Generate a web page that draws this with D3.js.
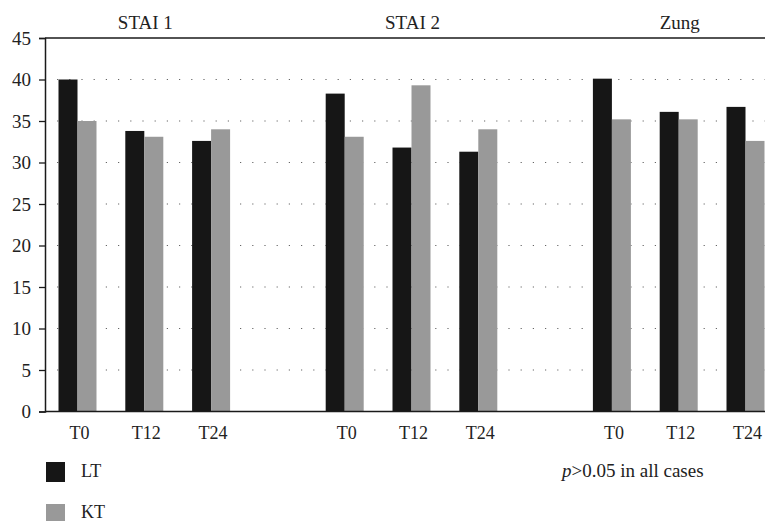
<!DOCTYPE html>
<html>
<head>
<meta charset="utf-8">
<script src="https://cdn.jsdelivr.net/npm/d3@7"></script>
<style>
    body { margin: 0; background: #fff; }
    svg { display: block; font-family: "Liberation Serif", "Times New Roman", serif; }
</style>
</head>
<body>
<svg id="chart" width="765" height="521"></svg>
<script>
// chart values
var scaleNames = ['STAI 1', 'STAI 2', 'Zung'];
var times = ['T0', 'T12', 'T24'];
var seriesNames = ['LT', 'KT'];
var ltValues = [[40.0, 33.8, 32.6], [38.3, 31.8, 31.3], [40.1, 36.1, 36.7]];
var ktValues = [[35.0, 33.1, 34.0], [33.1, 39.3, 34.0], [35.2, 35.2, 32.6]];
var yTicks = [0, 5, 10, 15, 20, 25, 30, 35, 40, 45];
var note = '>0.05 in all cases';

var colors = {LT: '#161616', KT: '#999999'};

var svg = d3.select('#chart');
// note: "top" is a window property, so use other names
var plotTop = 38, plotBottom = 411.5, plotLeft = 45, plotRight = 765;

// one slot per time point, with an empty slot between the scales
var slots = [];
scaleNames.forEach(function (s, i) {
    times.forEach(function (t) {
        slots.push(s + '|' + t);
    });
    if (i < scaleNames.length - 1) {
        slots.push('gap' + i);
    }
});

var x = d3.scaleBand().domain(slots).range([44.1, 778.9]).padding(0);
var bw = x.bandwidth();
var xs = d3.scaleBand().domain(seriesNames).range([bw / 2 - 19, bw / 2 + 19]);
var y = d3.scaleLinear().domain([0, 45]).range([plotBottom, plotTop]);

// flatten the data
var rows = [];
scaleNames.forEach(function (s, i) {
    times.forEach(function (t, j) {
        rows.push({slot: s + '|' + t, series: 'LT', value: ltValues[i][j]});
        rows.push({slot: s + '|' + t, series: 'KT', value: ktValues[i][j]});
    });
});

// dotted gridlines
svg.append('g')
    .selectAll('line')
    .data(yTicks.filter(function (d) { return d > 0 && d < 45; }))
    .enter()
    .append('line')
    .attr('x1', 57)
    .attr('x2', plotRight)
    .attr('y1', function (d) { return y(d); })
    .attr('y2', function (d) { return y(d); })
    .style('stroke', '#666')
    .style('stroke-width', 1.2)
    .style('stroke-dasharray', '1.2,11');

// bars
svg.append('g')
    .selectAll('rect')
    .data(rows)
    .enter()
    .append('rect')
    .attr('x', function (d) { return x(d.slot) + xs(d.series); })
    .attr('width', xs.bandwidth())
    .attr('y', function (d) { return y(d.value); })
    .attr('height', function (d) { return y(0) - y(d.value); })
    .style('fill', function (d) { return colors[d.series]; });

// frame lines
svg.append('line')
    .attr('x1', plotLeft).attr('x2', plotRight)
    .attr('y1', plotTop).attr('y2', plotTop)
    .style('stroke', '#1a1a1a').style('stroke-width', 1.5);
svg.append('line')
    .attr('x1', plotLeft).attr('x2', plotRight)
    .attr('y1', plotBottom).attr('y2', plotBottom)
    .style('stroke', '#1a1a1a').style('stroke-width', 1.5);

// y axis
var yAxis = d3.axisLeft(y).tickValues(yTicks).tickSize(6).tickPadding(8);
var gy = svg.append('g')
    .attr('transform', 'translate(' + plotLeft + ',0)')
    .call(yAxis);
gy.select('.domain').style('stroke', '#1a1a1a').style('stroke-width', 1.5);
gy.selectAll('.tick line').style('stroke', '#1a1a1a').style('stroke-width', 1.3);
gy.selectAll('.tick text')
    .style('font-family', '"Liberation Serif", serif')
    .style('font-size', '19px')
    .style('fill', '#222');

// x labels
svg.append('g')
    .selectAll('text')
    .data(slots.filter(function (d) { return d.indexOf('|') >= 0; }))
    .enter()
    .append('text')
    .attr('x', function (d) { return x(d) + bw / 2 + 2; })
    .attr('y', 439)
    .style('text-anchor', 'middle')
    .style('font-size', '18px')
    .style('fill', '#222')
    .text(function (d) { return d.split('|')[1]; });

// scale titles over the middle time point
svg.append('g')
    .selectAll('text')
    .data(scaleNames)
    .enter()
    .append('text')
    .attr('x', function (d) { return x(d + '|' + times[1]) + bw / 2 + 1; })
    .attr('y', 28.5)
    .style('text-anchor', 'middle')
    .style('font-size', '19px')
    .style('fill', '#222')
    .text(function (d) { return d; });

// legend
var legend = svg.append('g')
    .selectAll('g')
    .data(seriesNames)
    .enter()
    .append('g')
    .attr('transform', function (d, i) { return 'translate(46,' + (462 + i * 42) + ')'; });
legend.append('rect')
    .attr('width', 19)
    .attr('height', 20)
    .style('fill', function (d) { return colors[d]; });
legend.append('text')
    .attr('x', 35)
    .attr('y', function (d, i) { return i ? 14 : 15; })
    .style('font-size', '18px')
    .style('fill', '#222')
    .text(function (d) { return d; });

// significance note
var nt = svg.append('text')
    .attr('x', 562)
    .attr('y', 477)
    .style('font-size', '19px')
    .style('fill', '#222');
nt.append('tspan').style('font-style', 'italic').text('p');
nt.append('tspan').text(note);
</script>
</body>
</html>
